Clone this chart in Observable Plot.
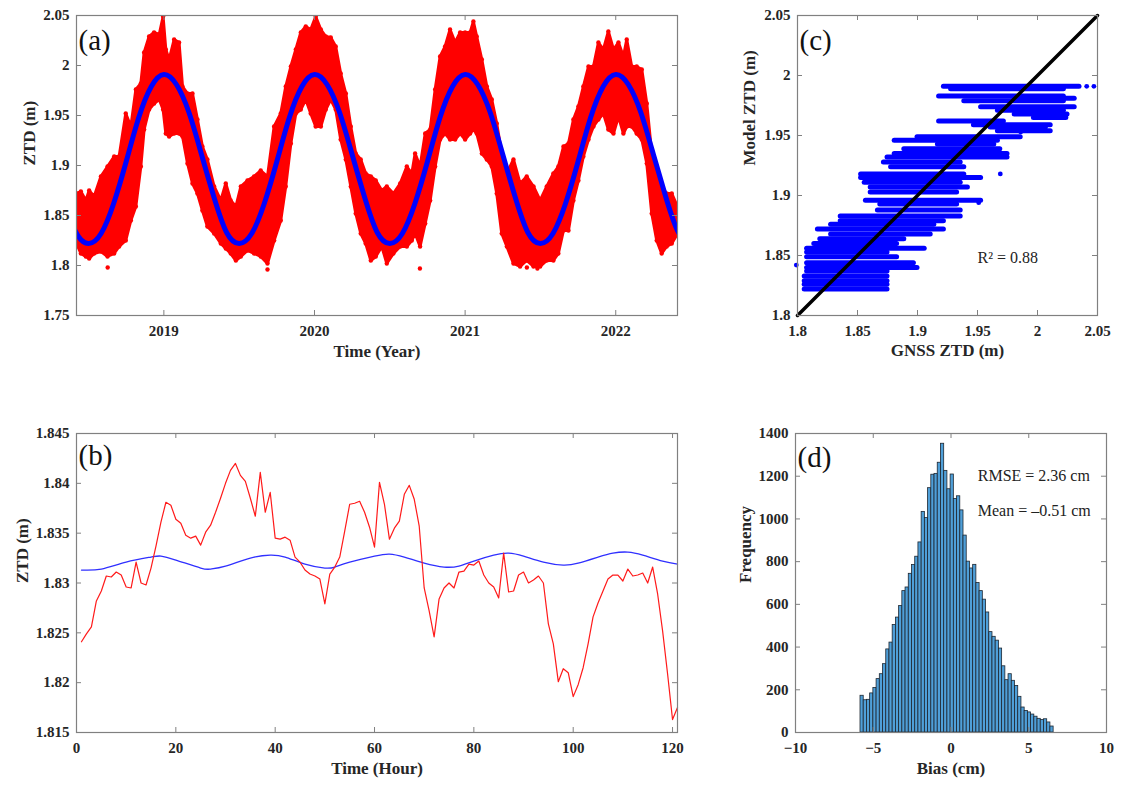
<!DOCTYPE html>
<html>
<head>
<meta charset="utf-8">
<script src="https://cdn.jsdelivr.net/npm/d3@7"></script>
<script src="https://cdn.jsdelivr.net/npm/@observablehq/plot@0.6"></script>
<style>
  body { margin: 0; background: #fff; }
  #fig { position: relative; width: 1125px; height: 789px; background: #fff; overflow: hidden; }
  .panel { position: absolute; }
  .panel text { font-family: "Liberation Serif", "Times New Roman", serif; }
</style>
</head>
<body>
<div id="fig"></div>
<script>
// ---------------- (a) GNSS ZTD time series with the annual model ----------------
const bandYear = [2018.420, 2018.449, 2018.482, 2018.504, 2018.537, 2018.582, 2018.626, 2018.670, 2018.703, 2018.747,
  2018.781, 2018.814, 2018.847, 2018.869, 2018.902, 2018.935, 2018.969, 2018.995, 2019.013, 2019.035,
  2019.068, 2019.101, 2019.124, 2019.157, 2019.190, 2019.223, 2019.256, 2019.289, 2019.334, 2019.378,
  2019.411, 2019.444, 2019.478, 2019.511, 2019.555, 2019.599, 2019.643, 2019.688, 2019.732, 2019.776,
  2019.809, 2019.843, 2019.876, 2019.909, 2019.942, 2019.975, 2020.008, 2020.042, 2020.075, 2020.108,
  2020.141, 2020.174, 2020.208, 2020.241, 2020.274, 2020.307, 2020.340, 2020.374, 2020.407,
  2020.447, 2020.480, 2020.524, 2020.569, 2020.613, 2020.646, 2020.668, 2020.701, 2020.735, 2020.768,
  2020.801, 2020.834, 2020.867, 2020.900, 2020.934, 2020.967, 2021.000, 2021.033, 2021.055, 2021.077,
  2021.111, 2021.144, 2021.177, 2021.210, 2021.243, 2021.277, 2021.321, 2021.365, 2021.409, 2021.454,
  2021.498, 2021.542, 2021.586, 2021.619, 2021.653, 2021.686, 2021.719, 2021.752, 2021.785, 2021.819,
  2021.852, 2021.885, 2021.918, 2021.951, 2021.985, 2022.018, 2022.051, 2022.073, 2022.106, 2022.139,
  2022.173, 2022.206, 2022.239, 2022.272, 2022.305, 2022.338, 2022.372, 2022.410];
const bandHigh = [1.872, 1.874, 1.865, 1.875, 1.869, 1.889, 1.899, 1.909, 1.909, 1.952,
  1.939, 1.976, 1.982, 2.013, 2.029, 2.033, 2.031, 2.049, 2.016, 2.006,
  2.026, 2.023, 1.979, 1.972, 1.972, 1.946, 1.919, 1.906, 1.879, 1.865,
  1.882, 1.865, 1.859, 1.879, 1.885, 1.889, 1.895, 1.889, 1.939, 1.952,
  1.979, 1.999, 2.016, 2.033, 2.039, 2.036, 2.049, 2.036, 2.029, 2.028,
  2.019, 1.992, 1.972, 1.939, 1.912, 1.906, 1.892, 1.889, 1.885,
  1.875, 1.879, 1.872, 1.882, 1.899, 1.892, 1.912, 1.899, 1.932, 1.936,
  1.976, 2.009, 2.019, 2.036, 2.023, 2.033, 2.033, 2.033, 2.044, 2.029,
  2.006, 1.979, 1.966, 1.942, 1.912, 1.892, 1.906, 1.882, 1.889, 1.879,
  1.865, 1.879, 1.892, 1.899, 1.919, 1.922, 1.946, 1.959, 1.979, 1.999,
  1.999, 2.023, 2.016, 2.034, 2.016, 2.023, 2.009, 2.026, 1.999, 1.999,
  1.996, 1.962, 1.912, 1.899, 1.879, 1.872, 1.872, 1.859];
const bandLow = [1.822, 1.812, 1.809, 1.807, 1.812, 1.814, 1.809, 1.812, 1.819, 1.825,
  1.845, 1.859, 1.899, 1.936, 1.956, 1.962, 1.966, 1.956, 1.932, 1.929,
  1.932, 1.932, 1.929, 1.902, 1.882, 1.872, 1.855, 1.839, 1.832, 1.822,
  1.817, 1.812, 1.805, 1.809, 1.815, 1.812, 1.809, 1.802, 1.825, 1.845,
  1.879, 1.922, 1.952, 1.956, 1.966, 1.952, 1.939, 1.939, 1.956, 1.966,
  1.956, 1.926, 1.906, 1.879, 1.852, 1.832, 1.822, 1.805, 1.809,
  1.819, 1.802, 1.812, 1.819, 1.819, 1.825, 1.832, 1.819, 1.842, 1.865,
  1.899, 1.926, 1.932, 1.926, 1.926, 1.932, 1.926, 1.932, 1.936, 1.932,
  1.912, 1.906, 1.899, 1.872, 1.832, 1.819, 1.802, 1.799, 1.805, 1.799,
  1.799, 1.805, 1.805, 1.812, 1.835, 1.835, 1.865, 1.885, 1.909, 1.926,
  1.939, 1.946, 1.952, 1.936, 1.932, 1.949, 1.932, 1.939, 1.939, 1.932,
  1.926, 1.902, 1.852, 1.825, 1.812, 1.819, 1.822, 1.832];
// isolated GNSS observations outside the dense band
const strayYear = [2018.627, 2019.688, 2020.700, 2021.410, 2021.480];
const strayZtd = [1.798, 1.796, 1.797, 1.798, 1.797];

// monthly values of the annual model (first day of each month)
const modelMonth = ["2018-05", "2018-06", "2018-07", "2018-08", "2018-09", "2018-10", "2018-11", "2018-12",
  "2019-01", "2019-02", "2019-03", "2019-04", "2019-05", "2019-06", "2019-07", "2019-08", "2019-09", "2019-10", "2019-11", "2019-12",
  "2020-01", "2020-02", "2020-03", "2020-04", "2020-05", "2020-06", "2020-07", "2020-08", "2020-09", "2020-10", "2020-11", "2020-12",
  "2021-01", "2021-02", "2021-03", "2021-04", "2021-05", "2021-06", "2021-07", "2021-08", "2021-09", "2021-10", "2021-11", "2021-12",
  "2022-01", "2022-02", "2022-03", "2022-04", "2022-05", "2022-06", "2022-07"];
const modelZtd = [1.868, 1.833, 1.822, 1.832, 1.862, 1.904, 1.948, 1.979,
  1.991, 1.981, 1.953, 1.911, 1.868, 1.833, 1.822, 1.832, 1.862, 1.904, 1.948, 1.979,
  1.991, 1.981, 1.953, 1.911, 1.868, 1.833, 1.822, 1.832, 1.862, 1.904, 1.948, 1.979,
  1.991, 1.981, 1.953, 1.911, 1.868, 1.833, 1.822, 1.832, 1.862, 1.904, 1.948, 1.979,
  1.991, 1.981, 1.953, 1.911, 1.868, 1.833, 1.822];
const yearTicks = [2019, 2020, 2021, 2022];
const ztdTicksA = [1.75, 1.8, 1.85, 1.9, 1.95, 2, 2.05];

// ---------------- (b) hourly GNSS ZTD vs model ----------------
const hourGnss = [1.8241, 1.8249, 1.8256, 1.8282, 1.8292, 1.8307, 1.8306, 1.8311, 1.8308, 1.8296,
  1.8295, 1.8321, 1.8300, 1.8298, 1.8315, 1.8337, 1.8361, 1.8381, 1.8378, 1.8364,
  1.8360, 1.8348, 1.8345, 1.8347, 1.8338, 1.8351, 1.8358, 1.8371, 1.8385, 1.8400,
  1.8413, 1.8420, 1.8408, 1.8402, 1.8385, 1.8367, 1.8411, 1.8371, 1.8391, 1.8345,
  1.8344, 1.8346, 1.8343, 1.8326, 1.8321, 1.8313, 1.8309, 1.8307, 1.8304, 1.8279,
  1.8309, 1.8316, 1.8326, 1.8352, 1.8379, 1.8380, 1.8382, 1.8371, 1.8356, 1.8336,
  1.8401, 1.8379, 1.8344, 1.8355, 1.8362, 1.8389, 1.8398, 1.8384, 1.8357, 1.8295,
  1.8272, 1.8246, 1.8284, 1.8295, 1.8300, 1.8295, 1.8311, 1.8312, 1.8319, 1.8318,
  1.8322, 1.8308, 1.8300, 1.8296, 1.8285, 1.8330, 1.8291, 1.8292, 1.8308, 1.8311,
  1.8300, 1.8303, 1.8307, 1.8300, 1.8259, 1.8239, 1.8201, 1.8214, 1.8210, 1.8186,
  1.8198, 1.8215, 1.8239, 1.8266, 1.8280, 1.8292, 1.8304, 1.8308, 1.8308, 1.8302,
  1.8314, 1.8307, 1.8308, 1.8310, 1.8300, 1.8316, 1.8289, 1.8252, 1.8209, 1.8163,
  1.8175];
const modelHour = [1, 5, 10, 15, 17, 20, 25, 27, 30, 35, 39, 42, 46, 50, 52, 55, 60, 63, 66, 70,
  74, 77, 80, 84, 87, 90, 94, 98, 101, 105, 108, 111, 114, 118, 121];
const modelHourZtd = [1.8313, 1.8314, 1.8321, 1.8326, 1.8327, 1.8323, 1.8315, 1.8314, 1.8317, 1.8325,
  1.8328, 1.8326, 1.8319, 1.8315, 1.8316, 1.8321, 1.8327, 1.8329, 1.8326, 1.8320,
  1.8316, 1.8317, 1.8322, 1.8328, 1.8330, 1.8327, 1.8321, 1.8318, 1.8320, 1.8326,
  1.8330, 1.8331, 1.8328, 1.8322, 1.8319];
const hourTicks = [0, 20, 40, 60, 80, 100, 120];
const ztdTicksB = [1.815, 1.82, 1.825, 1.83, 1.835, 1.84, 1.845];

// ---------------- (c) model vs GNSS scatter (runs of points at each model level) ----------------
const runModel = [1.991, 1.989, 1.983, 1.981, 1.979, 1.974, 1.971, 1.968, 1.965, 1.962,
  1.959, 1.957, 1.954, 1.949, 1.946, 1.943, 1.939, 1.935, 1.932, 1.928,
  1.924, 1.918, 1.915, 1.911, 1.907, 1.903, 1.896, 1.893, 1.888, 1.883,
  1.879, 1.876, 1.872, 1.868, 1.864, 1.860, 1.856, 1.853, 1.849, 1.844,
  1.840, 1.837, 1.833, 1.829, 1.826, 1.822];
const runGnssMin = [1.922, 1.928, 1.918, 1.981, 1.939, 1.953, 1.967, 1.981, 1.997, 1.918,
  1.947, 1.961, 1.967, 1.900, 1.881, 1.917, 1.889, 1.881, 1.875, 1.872,
  1.878, 1.853, 1.853, 1.856, 1.861, 1.861, 1.857, 1.869, 1.867, 1.836,
  1.836, 1.828, 1.817, 1.828, 1.819, 1.814, 1.808, 1.808, 1.808, 1.808,
  1.808, 1.808, 1.806, 1.806, 1.806, 1.806];
const runGnssMax = [2.035, 2.022, 2.022, 2.031, 2.022, 2.031, 2.022, 2.025, 2.024, 1.972,
  2.011, 2.007, 2.011, 1.986, 1.967, 1.964, 1.969, 1.975, 1.975, 1.936,
  1.939, 1.939, 1.953, 1.936, 1.942, 1.933, 1.953, 1.933, 1.936, 1.936,
  1.922, 1.914, 1.922, 1.911, 1.889, 1.883, 1.906, 1.875, 1.883, 1.897,
  1.900, 1.875, 1.875, 1.875, 1.875, 1.875];
const looseGnss = [2.047, 2.041, 1.799, 1.969, 1.986, 1.951];
const looseModel = [1.991, 1.991, 1.842, 1.918, 1.953, 1.894];
const oneToOne = [1.8, 2.05];
const ztdTicksC = [1.8, 1.85, 1.9, 1.95, 2, 2.05];

// ---------------- (d) histogram of the bias ----------------
const binStart = -5.82;
const binWidth = 0.207;
const binCount = [172, 151, 153, 183, 208, 250, 273, 320, 389, 421,
  503, 538, 592, 662, 679, 743, 784, 823, 890, 1033,
  1004, 1144, 1207, 1211, 1263, 1352, 1225, 1139, 1208, 1093,
  1106, 1040, 922, 800, 768, 785, 700, 662, 622, 562,
  470, 448, 430, 393, 310, 245, 273, 242, 218, 167,
  117, 101, 94, 84, 74, 64, 58, 62, 47, 28];
const biasTicks = [-10, -5, 0, 5, 10];
const freqTicks = [0, 200, 400, 600, 800, 1000, 1200, 1400];

// ---------------- shared styling ----------------
const fontFamily = '"Liberation Serif", "Times New Roman", serif';
const frameColor = "#808080";
const inkColor = "#262626";
const plain = d => String(d);
const signed = d => (d < 0 ? "\u2212" + Math.abs(d) : String(d));

function boxedPanel(o) {
  const innerW = o.width - o.ml - o.mr;
  const innerH = o.height - o.mt - o.mb;
  const tick = 5;
  const svg = Plot.plot({
    width: o.width,
    height: o.height,
    marginLeft: o.ml, marginRight: o.mr, marginTop: o.mt, marginBottom: o.mb,
    x: {type: "linear", domain: o.xDomain},
    y: {type: "linear", domain: o.yDomain},
    style: {fontFamily, fontSize: "15px", fontWeight: "bold", color: inkColor, background: "transparent", overflow: "visible"},
    marks: [
      ...o.marks,
      Plot.ruleX(o.xTicks, {x: d => d, insetTop: innerH - tick, stroke: frameColor}),
      Plot.ruleX(o.xTicks, {x: d => d, insetBottom: innerH - tick, stroke: frameColor}),
      Plot.ruleY(o.yTicks, {y: d => d, insetRight: innerW - tick, stroke: frameColor}),
      Plot.ruleY(o.yTicks, {y: d => d, insetLeft: innerW - tick, stroke: frameColor}),
      Plot.frame({stroke: frameColor, strokeWidth: 1.2}),
      Plot.axisX(o.xTicks, {tickSize: 0, tickPadding: 10, tickFormat: o.xFormat, label: null, fill: inkColor}),
      Plot.axisY(o.yTicks, {tickSize: 0, tickPadding: 7, tickFormat: o.yFormat, label: null, fill: inkColor}),
      Plot.text([o.xLabel], {text: d => d, frameAnchor: "bottom", dy: o.xLabelDy, lineAnchor: "middle", fontSize: 17, fill: inkColor}),
      Plot.text([o.yLabel], {text: d => d, frameAnchor: "left", dx: -o.yLabelDx, rotate: -90, lineAnchor: "middle", fontSize: 17, fill: inkColor}),
      Plot.text([o.tag], {text: d => d, frameAnchor: "top-left", dx: 2, dy: o.tagDy, textAnchor: "start", lineAnchor: "middle", fontSize: 29, fontWeight: "normal", fill: "#111"})
    ]
  });
  svg.classList.add("panel");
  svg.style.left = o.left + "px";
  svg.style.top = o.top + "px";
  document.getElementById("fig").appendChild(svg);
}

// tables built from the arrays above
const band = bandYear.map((year, i) => ({year, hi: bandHigh[i], lo: bandLow[i]}));
const stray = strayYear.map((year, i) => ({year, ztd: strayZtd[i]}));
const model = modelMonth.map((m, i) => {
  const [yy, mm] = m.split("-").map(Number);
  return {year: yy + (mm - 1) / 12, ztd: modelZtd[i]};
});
const hourly = hourGnss.map((ztd, i) => ({hour: i + 1, ztd}));
const hourlyModel = modelHour.map((hour, i) => ({hour, ztd: modelHourZtd[i]}));
const runs = runModel.map((m, i) => ({model: m, lo: runGnssMin[i], hi: runGnssMax[i]}));
const loose = looseGnss.map((g, i) => ({gnss: g, model: looseModel[i]}));
const bins = binCount.map((count, i) => ({x0: binStart + i * binWidth, x1: binStart + (i + 1) * binWidth, count}));

// (a)
boxedPanel({
  left: 0, top: 0, width: 690, height: 370, ml: 76, mr: 13, mt: 15, mb: 55,
  xDomain: [2018.42, 2022.41], yDomain: [1.75, 2.05],
  xTicks: yearTicks, yTicks: ztdTicksA, xFormat: plain, yFormat: plain,
  xLabel: "Time (Year)", yLabel: "ZTD (m)", xLabelDy: 36, yLabelDx: 47, tag: "(a)", tagDy: 25,
  marks: [
    Plot.areaY(band, {x: "year", y1: "lo", y2: "hi", fill: "#ff0000", clip: true}),
    Plot.line(band, {x: "year", y: "hi", stroke: "#ff0000", strokeWidth: 3, clip: true}),
    Plot.line(band, {x: "year", y: "lo", stroke: "#ff0000", strokeWidth: 3, clip: true}),
    Plot.dot(band, {x: "year", y: "hi", r: 2.2, fill: "#ff0000", clip: true}),
    Plot.dot(band, {x: "year", y: "lo", r: 2.2, fill: "#ff0000", clip: true}),
    Plot.dot(stray, {x: "year", y: "ztd", r: 2.2, fill: "#ff0000"}),
    Plot.line(model, {x: "year", y: "ztd", curve: "natural", stroke: "#0000ff", strokeWidth: 5, clip: true})
  ]
});

// (b)
boxedPanel({
  left: 0, top: 410, width: 690, height: 379, ml: 76, mr: 13, mt: 23, mb: 57,
  xDomain: [0, 121], yDomain: [1.815, 1.845],
  xTicks: hourTicks, yTicks: ztdTicksB, xFormat: plain, yFormat: plain,
  xLabel: "Time (Hour)", yLabel: "ZTD (m)", xLabelDy: 36, yLabelDx: 54, tag: "(b)", tagDy: 22,
  marks: [
    Plot.line(hourlyModel, {x: "hour", y: "ztd", curve: "natural", stroke: "#3030ff", strokeWidth: 1.3}),
    Plot.line(hourly, {x: "hour", y: "ztd", stroke: "#ff1a1a", strokeWidth: 1.2})
  ]
});

// (c)
boxedPanel({
  left: 730, top: 0, width: 395, height: 370, ml: 67, mr: 28, mt: 15, mb: 55,
  xDomain: [1.8, 2.05], yDomain: [1.8, 2.05],
  xTicks: ztdTicksC, yTicks: ztdTicksC, xFormat: plain, yFormat: plain,
  xLabel: "GNSS ZTD (m)", yLabel: "Model ZTD (m)", xLabelDy: 35, yLabelDx: 48, tag: "(c)", tagDy: 25,
  marks: [
    Plot.ruleY(runs, {y: "model", x1: "lo", x2: "hi", stroke: "#0000ff", strokeWidth: 5, strokeLinecap: "round"}),
    Plot.dot(loose, {x: "gnss", y: "model", r: 2.4, fill: "#0000ff"}),
    Plot.line(oneToOne, {x: d => d, y: d => d, stroke: "#000", strokeWidth: 3.5}),
    Plot.text(["R\u00b2 = 0.88"], {text: d => d, x: 1.95, y: 1.848, textAnchor: "start", lineAnchor: "middle", fontSize: 16, fontWeight: "normal", fill: "#222"})
  ]
});

// (d)
boxedPanel({
  left: 730, top: 410, width: 395, height: 379, ml: 65, mr: 19, mt: 23, mb: 57,
  xDomain: [-10, 10], yDomain: [0, 1400],
  xTicks: biasTicks, yTicks: freqTicks, xFormat: signed, yFormat: plain,
  xLabel: "Bias (cm)", yLabel: "Frequency", xLabelDy: 36, yLabelDx: 50, tag: "(d)", tagDy: 24,
  marks: [
    Plot.rectY(bins, {x1: "x0", x2: "x1", y: "count", fill: "#4f9fd8", stroke: "#1d2630", strokeWidth: 0.8}),
    Plot.text(["RMSE = 2.36 cm"], {text: d => d, x: 1.72, y: 1200, textAnchor: "start", lineAnchor: "middle", fontSize: 16, fontWeight: "normal", fill: "#222"}),
    Plot.text(["Mean = \u20130.51 cm"], {text: d => d, x: 1.72, y: 1040, textAnchor: "start", lineAnchor: "middle", fontSize: 16, fontWeight: "normal", fill: "#222"})
  ]
});
</script>
</body>
</html>
